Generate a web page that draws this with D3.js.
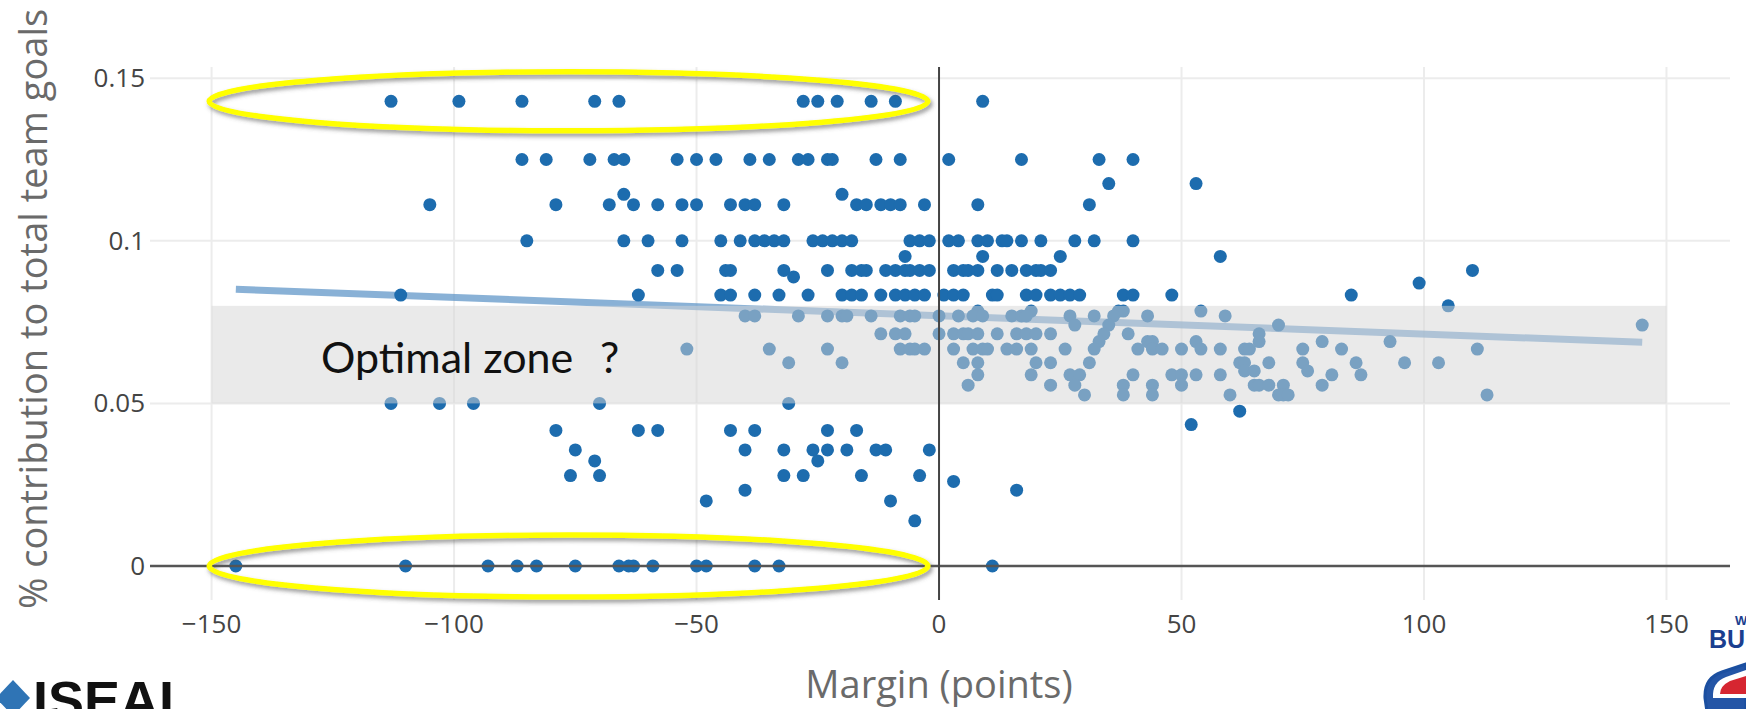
<!DOCTYPE html>
<html>
<head>
<meta charset="utf-8">
<script src="https://cdn.jsdelivr.net/npm/d3@7"></script>
<style>
  html, body { margin: 0; padding: 0; background: #fff; }
  svg { display: block; }
  .tick-label { font-family: "Open Sans", sans-serif; font-size: 26px; fill: #444; }
  .axis-title { font-family: "Open Sans", sans-serif; font-size: 38px; fill: #6a6a6a; }
  .zone-label { font-family: Lato, "Noto Sans", sans-serif; font-size: 43px; fill: #111; }
</style>
</head>
<body>
<svg id="chart"></svg>
<script>
// Each y level (share of team goals) with the game margins read at that level
const lvl1429 = [-113, -99, -86, -71, -66, -28, -25, -21, -14, -9, 9];
const lvl1250 = [-86, -81, -72, -67, -65, -54, -50, -46, -39, -35, -29, -27, -23, -22, -13, -8, 2, 17, 33, 40];
const lvl1176 = [35, 53];
const lvl1143 = [-65, -20];
const lvl1111 = [-105, -79, -68, -63, -58, -53, -50, -43, -40, -38, -32, -17, -15, -12, -10, -8, -3, 8, 31];
const lvl1000 = [-85, -65, -60, -53, -45, -41, -38, -36, -34, -32, -26, -24, -22, -20, -18, -6, -4, -2, 2, 4, 8, 10, 13, 14, 17, 21, 28, 32, 40];
const lvl0952 = [-7, 9, 25, 58];
const lvl0909 = [-58, -54, -44, -43, -32, -23, -18, -16, -15, -11, -9, -7, -6, -4, -2, 3, 5, 6, 8, 12, 15, 18, 20, 21, 23, 110];
const lvl0889 = [-30];
const lvl0870 = [99];
const lvl0833 = [-111, -62, -45, -43, -38, -33, -27, -20, -18, -16, -12, -9, -7, -5, -3, 1, 3, 5, 11, 12, 18, 20, 23, 25, 27, 29, 38, 40, 48, 85];
const lvl0800 = [105];
const lvl0784 = [8, 19, 37, 38, 54];
const lvl0769 = [-40, -38, -29, -23, -20, -19, -14, -8, -6, -5, 0, 4, 7, 9, 15, 17, 18, 27, 32, 36, 43, 59];
const lvl0741 = [28, 35, 70, 145];
const lvl0714 = [-12, -9, -7, 0, 3, 5, 6, 8, 12, 16, 18, 20, 23, 34, 39, 66];
const lvl0690 = [33, 43, 44, 53, 66, 79, 93];
const lvl0667 = [-52, -35, -23, -8, -6, -5, -3, 3, 7, 9, 10, 14, 16, 19, 26, 32, 41, 44, 46, 50, 54, 58, 63, 64, 75, 83, 111];
const lvl0625 = [-31, -20, 5, 8, 20, 23, 31, 62, 63, 68, 75, 86, 96, 103];
const lvl0600 = [63, 65, 76];
const lvl0588 = [8, 19, 27, 29, 40, 48, 50, 53, 58, 81, 87];
const lvl0556 = [6, 23, 28, 38, 44, 50, 65, 66, 68, 71, 79];
const lvl0526 = [30, 38, 44, 60, 70, 71, 72, 113];
const lvl0500 = [-113, -103, -96, -70, -31];
const lvl0476 = [62];
const lvl0435 = [52];
const lvl0417 = [-79, -62, -58, -43, -38, -23, -17];
const lvl0357 = [-75, -40, -32, -26, -23, -19, -13, -11, -2];
const lvl0323 = [-71, -25];
const lvl0278 = [-76, -70, -32, -28, -16, -4];
const lvl0260 = [3];
const lvl0233 = [-40, 16];
const lvl0200 = [-48, -10];
const lvl0139 = [-5];
const lvl0000 = [-145, -110, -93, -87, -83, -75, -66, -64, -63, -59, -50, -48, -38, -33, 11];

const rows = [
  [0.1429, lvl1429], [0.125, lvl1250], [0.1176, lvl1176], [0.1143, lvl1143],
  [0.1111, lvl1111], [0.1, lvl1000], [0.0952, lvl0952], [0.0909, lvl0909],
  [0.0889, lvl0889], [0.087, lvl0870], [0.0833, lvl0833], [0.08, lvl0800],
  [0.0784, lvl0784], [0.0769, lvl0769], [0.0741, lvl0741], [0.0714, lvl0714],
  [0.069, lvl0690], [0.0667, lvl0667], [0.0625, lvl0625], [0.06, lvl0600],
  [0.0588, lvl0588], [0.0556, lvl0556], [0.0526, lvl0526], [0.05, lvl0500],
  [0.0476, lvl0476], [0.0435, lvl0435], [0.0417, lvl0417], [0.0357, lvl0357],
  [0.0323, lvl0323], [0.0278, lvl0278], [0.026, lvl0260], [0.0233, lvl0233],
  [0.02, lvl0200], [0.0139, lvl0139], [0, lvl0000]
];

const xTicks = [-150, -100, -50, 0, 50, 100, 150];
const yTicks = [0, 0.05, 0.1, 0.15];
const yTickLabels = ["0", "0.05", "0.1", "0.15"];

// fitted trend and the highlighted zone
const trendX = [-145, 145];
const trendY = [0.0851, 0.0688];
const zoneX = [-150, 150];
const zoneY = [0.05, 0.08];
const zoneLabel = "Optimal zone";
const zoneMark = "?";

// yellow rings: margin span and centre level of each
const ringX = [-150.5, -2.3];
const ringLevels = [0.1429, 0];

const width = 1746, height = 709;
const margin = { top: 67, right: 16, bottom: 109, left: 150 };
const innerW = width - margin.left - margin.right;
const innerH = height - margin.top - margin.bottom;

const svg = d3.select('#chart')
  .attr('width', width)
  .attr('height', height);

const defs = svg.append('defs');
const shadow = defs.append('filter')
  .attr('id', 'ring-shadow')
  .attr('x', '-10%').attr('y', '-50%')
  .attr('width', '120%').attr('height', '200%');
shadow.append('feDropShadow')
  .attr('dx', 2).attr('dy', 3)
  .attr('stdDeviation', 2)
  .attr('flood-color', '#555')
  .attr('flood-opacity', 0.6);

const xScale = d3.scaleLinear()
  .domain([-162.7, 163.1])
  .range([0, innerW]);

const yScale = d3.scaleLinear()
  .domain([-0.01046, 0.15345])
  .range([innerH, 0]);

const chart = svg.append('g')
  .attr('transform', `translate(${margin.left},${margin.top})`);

// gridlines
chart.append('g')
  .selectAll('line')
  .data(xTicks.filter(d => d !== 0))
  .join('line')
  .attr('x1', d => xScale(d)).attr('x2', d => xScale(d))
  .attr('y1', 0).attr('y2', innerH)
  .attr('stroke', '#ececec')
  .attr('stroke-width', 2);

chart.append('g')
  .selectAll('line')
  .data(yTicks.filter(d => d !== 0))
  .join('line')
  .attr('x1', 0).attr('x2', innerW)
  .attr('y1', d => yScale(d)).attr('y2', d => yScale(d))
  .attr('stroke', '#ececec')
  .attr('stroke-width', 2);

// trend line
chart.append('line')
  .attr('x1', xScale(trendX[0])).attr('y1', yScale(trendY[0]))
  .attr('x2', xScale(trendX[1])).attr('y2', yScale(trendY[1]))
  .attr('stroke', '#5b93c6')
  .attr('stroke-opacity', 0.72)
  .attr('stroke-width', 7);

// points
const points = rows.flatMap(([level, margins]) => margins.map(m => ({ x: m, y: level })));

chart.append('g')
  .selectAll('circle')
  .data(points)
  .join('circle')
  .attr('cx', d => xScale(d.x))
  .attr('cy', d => yScale(d.y))
  .attr('r', 6.5)
  .attr('fill', '#1d6cae');

// optimal zone overlay
chart.append('rect')
  .attr('x', xScale(zoneX[0]))
  .attr('y', yScale(zoneY[1]))
  .attr('width', xScale(zoneX[1]) - xScale(zoneX[0]))
  .attr('height', yScale(zoneY[0]) - yScale(zoneY[1]))
  .attr('fill', '#d6d6d6')
  .attr('fill-opacity', 0.5);

// zero lines
chart.append('line')
  .attr('x1', 0).attr('x2', innerW)
  .attr('y1', yScale(0)).attr('y2', yScale(0))
  .attr('stroke', '#555')
  .attr('stroke-width', 2.5);

chart.append('line')
  .attr('x1', xScale(0)).attr('x2', xScale(0))
  .attr('y1', 0).attr('y2', innerH)
  .attr('stroke', '#444')
  .attr('stroke-width', 2);

// tick labels
chart.append('g')
  .selectAll('text')
  .data(xTicks)
  .join('text')
  .attr('class', 'tick-label')
  .attr('x', d => xScale(d))
  .attr('y', innerH + 33)
  .attr('text-anchor', 'middle')
  .text(d => d3.format('')(d));

chart.append('g')
  .selectAll('text')
  .data(yTicks)
  .join('text')
  .attr('class', 'tick-label')
  .attr('x', -5)
  .attr('y', d => yScale(d))
  .attr('dy', '0.35em')
  .attr('text-anchor', 'end')
  .text((d, i) => yTickLabels[i]);

// axis titles
svg.append('text')
  .attr('class', 'axis-title')
  .attr('x', margin.left + xScale(0))
  .attr('y', 698)
  .attr('text-anchor', 'middle')
  .text('Margin (points)');

svg.append('text')
  .attr('class', 'axis-title')
  .attr('transform', 'translate(47,309) rotate(-90)')
  .attr('text-anchor', 'middle')
  .text('% contribution to total team goals');

// zone label
chart.append('text')
  .attr('class', 'zone-label')
  .attr('x', 321 - margin.left)
  .attr('y', 373 - margin.top)
  .text(zoneLabel);

chart.append('text')
  .attr('class', 'zone-label')
  .attr('x', 600 - margin.left)
  .attr('y', 373 - margin.top)
  .text(zoneMark);

// yellow rings
const ringRy = [29.5, 31];
chart.append('g')
  .selectAll('ellipse')
  .data(ringLevels)
  .join('ellipse')
  .attr('cx', (xScale(ringX[0]) + xScale(ringX[1])) / 2)
  .attr('cy', d => yScale(d))
  .attr('rx', (xScale(ringX[1]) - xScale(ringX[0])) / 2)
  .attr('ry', (d, i) => ringRy[i])
  .attr('fill', 'none')
  .attr('stroke', '#ffff00')
  .attr('stroke-width', 5.5)
  .attr('filter', 'url(#ring-shadow)');

// ISEAL logo (bottom left, cut by the frame)
const logoL = svg.append('g');
logoL.append('path')
  .attr('d', 'M-4,698 L13,680 L30,698 L13,716 Z')
  .attr('fill', '#2f74b5');
logoL.append('text')
  .attr('x', 33).attr('y', 719)
  .attr('font-family', '"Liberation Sans", Arial, sans-serif')
  .attr('font-weight', 'bold')
  .attr('font-size', 54)
  .attr('fill', '#111')
  .text('ISEAL');

// World Rugby logo (bottom right, cut by the frame)
const logoR = svg.append('g');
logoR.append('text')
  .attr('x', 1735).attr('y', 625)
  .attr('font-family', '"Liberation Sans", Arial, sans-serif')
  .attr('font-weight', 'bold')
  .attr('font-size', 13)
  .attr('fill', '#1b3f8f')
  .text('W');
logoR.append('text')
  .attr('x', 1709).attr('y', 648)
  .attr('font-family', '"Liberation Sans", Arial, sans-serif')
  .attr('font-weight', 'bold')
  .attr('font-size', 25)
  .attr('fill', '#1b3f8f')
  .text('BU');
logoR.append('path')
  .attr('d', 'M1746,664 L1722,672 Q1704,678 1705,698 L1707,712 L1746,712 Z')
  .attr('fill', '#2455a6')
  .attr('stroke', '#1b4fa0')
  .attr('stroke-width', 3);
logoR.append('path')
  .attr('d', 'M1746,670 L1726,677 Q1712,682 1713,698 L1746,698 Z')
  .attr('fill', '#fff');
logoR.append('path')
  .attr('d', 'M1746,676 L1730,681 Q1720,686 1720,694 L1746,694 Z')
  .attr('fill', '#d62631');
</script>
</body>
</html>
